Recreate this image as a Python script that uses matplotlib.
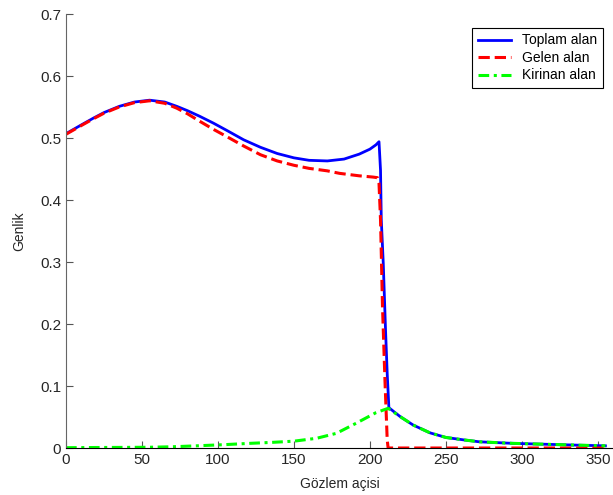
import matplotlib.pyplot as plt

# toplam alan (blue)
toplam_x = [0, 10, 18, 25, 35, 45, 55, 65, 73, 80, 88, 97, 106, 117, 128, 139, 150,
            160, 172, 183, 193, 200, 204, 206, 207, 207.5, 208.8, 210.3, 211.4, 212.5,
            220, 228.5, 239.5, 250, 262, 272, 294, 316, 338, 355]
toplam_y = [0.507, 0.521, 0.532, 0.541, 0.551, 0.558, 0.561, 0.558, 0.551, 0.544, 0.535,
            0.524, 0.512, 0.497, 0.485, 0.475, 0.468, 0.464, 0.463, 0.466, 0.474, 0.482,
            0.489, 0.494, 0.448, 0.368, 0.298, 0.19, 0.12, 0.065,
            0.0505, 0.037, 0.0245, 0.017, 0.013, 0.010, 0.0075, 0.006, 0.0045, 0.0035]

# gelen alan (red)
gelen_x = [0, 10, 18, 25, 35, 45, 55, 65, 73, 80, 88, 97, 106, 117, 128, 139, 150,
           160, 172, 180, 193, 202, 205, 206, 207, 208.3, 209.9, 211.4, 212, 355]
gelen_y = [0.506, 0.520, 0.531, 0.540, 0.550, 0.557, 0.560, 0.556, 0.548, 0.539, 0.527,
           0.514, 0.502, 0.487, 0.473, 0.463, 0.456, 0.451, 0.447, 0.443, 0.439, 0.437,
           0.436, 0.427, 0.368, 0.228, 0.110, 0.013, 0.0, 0.0]

# kirinan alan (green)
kirinan_x = [0, 20, 40, 55, 70, 88, 105, 121, 135, 150, 165, 178, 191, 204, 212,
             220, 228.5, 239.5, 250, 262, 272, 294, 316, 338, 355]
kirinan_y = [0.0005, 0.0008, 0.001, 0.0012, 0.002, 0.0037, 0.0055, 0.0075, 0.009, 0.011,
             0.0157, 0.0237, 0.040, 0.057, 0.064,
             0.0505, 0.037, 0.0245, 0.017, 0.013, 0.010, 0.0075, 0.006, 0.0045, 0.0035]

x_ticks = [0, 50, 100, 150, 200, 250, 300, 350]
y_ticks = [0, 0.1, 0.2, 0.3, 0.4, 0.5, 0.6, 0.7]
y_labels = ["0", "0.1", "0.2", "0.3", "0.4", "0.5", "0.6", "0.7"]

plt.rcParams['font.family'] = ['Liberation Sans', 'DejaVu Sans']

fig = plt.figure(figsize=(6.13, 4.95), dpi=100)
ax = fig.add_axes([66 / 613, 1 - 448 / 495, 547 / 613, 434 / 495])

ax.plot(toplam_x, toplam_y, color="#0000ff", lw=2, label="Toplam alan")
ax.plot(gelen_x, gelen_y, color="#ff0000", lw=2.2, linestyle=(0, (3.7, 1.6)),
        label="Gelen alan")
ax.plot(kirinan_x, kirinan_y, color="#00ff00", lw=2.2,
        linestyle=(0, (3.5, 1.5, 1, 1.5)), label="Kirinan alan")

ax.set_xlim(0, 360)
ax.set_ylim(0, 0.7)
ax.set_xticks(x_ticks)
ax.set_yticks(y_ticks)
ax.set_yticklabels(y_labels)
ax.tick_params(direction="in", length=5, labelsize=11, colors="#555555",
               labelcolor="#262626")

ax.spines["top"].set_visible(False)
ax.spines["right"].set_visible(False)
ax.spines["left"].set_color("#666666")
ax.spines["bottom"].set_color("black")

ax.set_xlabel("Gözlem açisi", fontsize=10, color="#262626", labelpad=7)
ax.set_ylabel("Genlik", fontsize=10, color="#262626", labelpad=10)

leg = ax.legend(loc="upper right", bbox_to_anchor=(0.982, 0.968), fontsize=10,
                fancybox=False, framealpha=1, edgecolor="black",
                handlelength=2.4, borderaxespad=0, labelspacing=0.25)
leg.get_frame().set_linewidth(0.8)

fig.savefig("out.png", dpi=100)
